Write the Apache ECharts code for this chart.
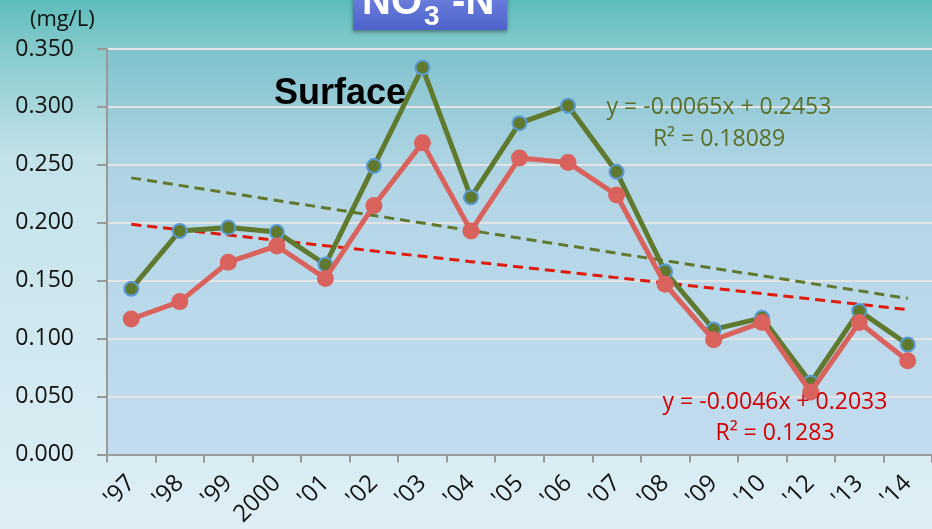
<!DOCTYPE html>
<html><head><meta charset="utf-8">
<script src="https://cdn.jsdelivr.net/npm/echarts@6/dist/echarts.min.js"></script>
<style>html,body{margin:0;padding:0;}#c{width:932px;height:529px;}</style>
</head><body><div id="c"></div>
<script>
const categories = ["'97","'98","'99","2000","'01","'02","'03","'04","'05","'06","'07","'08","'09","'10","'12","'13","'14"];
const greenValues = [0.143,0.193,0.196,0.192,0.164,0.249,0.334,0.222,0.286,0.301,0.244,0.158,0.108,0.118,0.062,0.124,0.095];
const redValues = [0.117,0.132,0.166,0.180,0.152,0.215,0.269,0.193,0.256,0.252,0.224,0.147,0.099,0.114,0.054,0.114,0.081];
const greenTrend = [-0.0065, 0.2453]; // slope, intercept (from displayed equation)
const redTrend = [-0.0046, 0.2033];
const yTicks = [0, 0.05, 0.1, 0.15, 0.2, 0.25, 0.3, 0.35];

function trendLine(coef){ return categories.map((c,i)=> +(coef[0]*(i+1)+coef[1]).toFixed(4)); }

const chart = echarts.init(document.getElementById('c'), null, {renderer:'canvas'});
const FONT = "Open Sans";
chart.setOption({
  animation:false,
  backgroundColor:{type:'linear',x:0,y:0,x2:0,y2:1,colorStops:[
    {offset:0,color:'#5cbdbb'},{offset:0.1,color:'#88cbcd'},{offset:0.3,color:'#c4e2ea'},{offset:1,color:'#deeef6'}]},
  grid:{left:107,right:0,top:49,bottom:73,show:true,borderWidth:0,
    backgroundColor:{type:'linear',x:0,y:0,x2:0,y2:1,colorStops:[
      {offset:0,color:'rgba(120,185,205,0.45)'},{offset:0.4,color:'rgba(160,200,225,0.5)'},{offset:1,color:'rgba(175,208,235,0.55)'}]}},
  xAxis:{type:'category',data:categories,boundaryGap:true,
    axisLine:{lineStyle:{color:'#999',width:2}},
    axisTick:{show:true,length:8,lineStyle:{color:'#999',width:2}},
    axisLabel:{rotate:45,fontSize:24,color:'#111',fontFamily:FONT,margin:25,interval:0}},
  yAxis:{type:'value',min:0,max:0.35,interval:0.05,
    axisLine:{show:true,lineStyle:{color:'#999',width:2}},
    axisTick:{show:true,length:10,lineStyle:{color:'#999',width:2}},
    splitLine:{lineStyle:{color:'#e4e4e4',width:2}},
    axisLabel:{fontSize:23,color:'#111',fontFamily:FONT,margin:33,formatter:v=>v.toFixed(3)}},
  series:[
    {type:'line',data:trendLine(greenTrend),symbol:'none',z:1,
      lineStyle:{color:'#62782e',width:3,type:[10,6]}},
    {type:'line',data:trendLine(redTrend),symbol:'none',z:1,
      lineStyle:{color:'#e01a0a',width:3,type:[10,6]}},
    {type:'line',data:greenValues,symbol:'circle',symbolSize:14,z:3,
      lineStyle:{color:'#5f7a2e',width:5},
      itemStyle:{color:'#5f7a2e',borderColor:'#5b9bd5',borderWidth:2}},
    {type:'line',data:redValues,symbol:'circle',symbolSize:17,z:4,
      lineStyle:{color:'#d9625d',width:5},
      itemStyle:{color:'#d9625d'}}
  ],
  graphic:[
    {type:'rect',shape:{x:353,y:-10,width:154,height:40},z:10,
      style:{fill:{type:'linear',x:0,y:0,x2:0,y2:1,colorStops:[{offset:0,color:'#7184e0'},{offset:1,color:'#4d63cc'}]},
        shadowBlur:4,shadowColor:'rgba(0,0,0,0.4)',shadowOffsetY:2}},
    {type:'text',x:362,y:3,z:11,style:{text:'NO',textVerticalAlign:'middle',fontSize:40,fontWeight:'bold',fill:'#fff',fontFamily:'Liberation Sans'}},
    {type:'text',x:424,y:17,z:11,style:{text:'3',textVerticalAlign:'middle',fontSize:28,fontWeight:'bold',fill:'#fff',fontFamily:'Liberation Sans'}},
    {type:'text',x:441,y:3,z:11,style:{text:' -N',textVerticalAlign:'middle',fontSize:40,fontWeight:'bold',fill:'#fff',fontFamily:'Liberation Sans'}},
    {type:'text',x:30,y:9,z:11,style:{text:'(mg/L)',fontSize:22,fill:'#111',fontFamily:FONT}},
    {type:'text',x:274,y:76,z:11,style:{text:'Surface',fontSize:36,fontWeight:'bold',fill:'#000',fontFamily:'Liberation Sans'}},
    {type:'text',x:719,y:107,z:11,style:{text:'y = -0.0065x + 0.2453',textAlign:'center',textVerticalAlign:'middle',fontSize:23,fill:'#5a6e28',fontFamily:FONT}},
    {type:'text',x:719,y:139,z:11,style:{text:'R² = 0.18089',textAlign:'center',textVerticalAlign:'middle',fontSize:23,fill:'#5a6e28',fontFamily:FONT}},
    {type:'text',x:775,y:402,z:11,style:{text:'y = -0.0046x + 0.2033',textAlign:'center',textVerticalAlign:'middle',fontSize:23,fill:'#d40000',fontFamily:FONT}},
    {type:'text',x:775,y:433,z:11,style:{text:'R² = 0.1283',textAlign:'center',textVerticalAlign:'middle',fontSize:23,fill:'#d40000',fontFamily:FONT}}
  ]
});
</script></body></html>
